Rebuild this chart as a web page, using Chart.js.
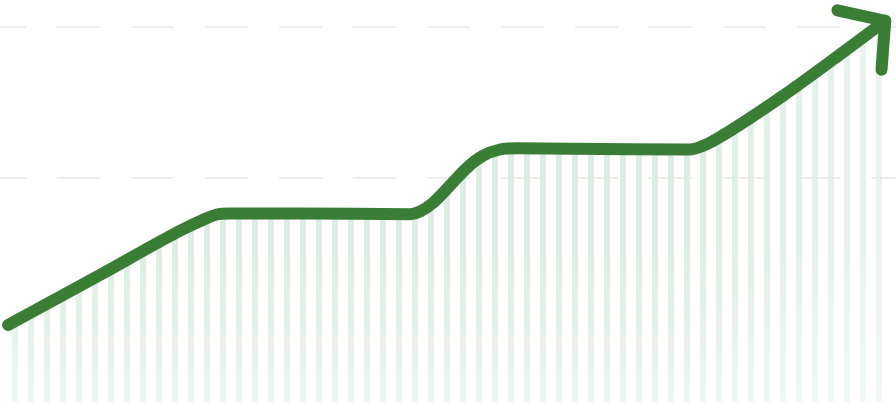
<!DOCTYPE html>
<html>
<head>
<meta charset="utf-8">
<script src="https://cdn.jsdelivr.net/npm/chart.js@4.4.1/dist/chart.umd.min.js"></script>
<style>
    html, body { margin: 0; padding: 0; background: #fff; }
    #wrap { width: 896px; height: 402px; position: relative; }
</style>
</head>
<body>
<div id="wrap"><canvas id="growthChart"></canvas></div>
<script>
// readings along the growth curve (x = % of period, y = index value)
const periods = [0.9, 11.2, 20.1, 22.5, 24.1, 25.7, 33.5, 45.8, 46.9, 48.3, 50.2, 52.1, 53.9, 55.8, 57.7, 67.0, 77.0, 78.7, 80.0, 87.4, 94.9, 98.8];
const values = [1.3, 17.9, 32.5, 35.9, 37.8, 38.2, 38.2, 38.0, 38.9, 41.7, 47.4, 53.3, 57.3, 59.4, 59.8, 59.6, 59.4, 60.9, 62.9, 77.2, 93.4, 102.0];
const gridTicks = [50, 100];

const lineGreen = '#3a7d35';

document.addEventListener('DOMContentLoaded', () => {
    const canvas = document.getElementById('growthChart');
    const wrap = document.getElementById('wrap');

    // vertical striped fill that fades toward the bottom and right
    const makeStripes = (w, h) => {
        const c = document.createElement('canvas');
        c.width = w;
        c.height = h;
        const g = c.getContext('2d');
        g.fillStyle = 'rgb(219, 238, 225)';
        for (let x = -4; x < w; x += 16) g.fillRect(x, 0, 6, h);

        g.globalCompositeOperation = 'destination-in';
        const hor = g.createLinearGradient(0, 0, w, 0);
        hor.addColorStop(0, 'rgba(0,0,0,0.85)');
        hor.addColorStop(0.05, 'rgba(0,0,0,1)');
        hor.addColorStop(0.75, 'rgba(0,0,0,1)');
        hor.addColorStop(1, 'rgba(0,0,0,0.6)');
        g.fillStyle = hor;
        g.fillRect(0, 0, w, h);

        const ver = g.createLinearGradient(0, 0, 0, h);
        ver.addColorStop(0, 'rgba(0,0,0,1)');
        ver.addColorStop(0.6, 'rgba(0,0,0,1)');
        ver.addColorStop(1, 'rgba(0,0,0,0.55)');
        g.fillStyle = ver;
        g.fillRect(0, 0, w, h);

        return g.createPattern(c, 'no-repeat');
    };

    // arrow head on the last point, aligned with the last segment
    const arrowHead = {
        id: 'arrowHead',
        afterDatasetsDraw(chart) {
            const pts = chart.getDatasetMeta(0).data;
            const tip = pts[pts.length - 1];
            const prev = pts[pts.length - 2];
            const back = Math.atan2(prev.y - tip.y, prev.x - tip.x);
            const spread = 49 * Math.PI / 180;
            const len = 49;
            const ctx = chart.ctx;
            ctx.save();
            ctx.strokeStyle = lineGreen;
            ctx.lineWidth = 12;
            ctx.lineCap = 'round';
            ctx.lineJoin = 'round';
            ctx.beginPath();
            ctx.moveTo(tip.x + Math.cos(back + spread) * len, tip.y + Math.sin(back + spread) * len);
            ctx.lineTo(tip.x, tip.y);
            ctx.lineTo(tip.x + Math.cos(back - spread) * len, tip.y + Math.sin(back - spread) * len);
            ctx.stroke();
            ctx.restore();
        }
    };

    new Chart(canvas.getContext('2d'), {
        type: 'line',
        data: {
            datasets: [{
                data: periods.map((p, i) => ({ x: p, y: values[i] })),
                borderColor: lineGreen,
                borderWidth: 12,
                borderCapStyle: 'round',
                borderJoinStyle: 'round',
                backgroundColor: makeStripes(wrap.clientWidth, wrap.clientHeight),
                fill: 'start',
                cubicInterpolationMode: 'monotone',
                pointRadius: 0,
                pointHoverRadius: 0
            }]
        },
        options: {
            responsive: true,
            maintainAspectRatio: false,
            animation: false,
            layout: { padding: 0 },
            plugins: { legend: { display: false }, tooltip: { enabled: false } },
            scales: {
                x: { type: 'linear', min: 0, max: 100, display: false },
                y: {
                    min: -24.2,
                    max: 108.9,
                    afterBuildTicks: axis => { axis.ticks = gridTicks.map(v => ({ value: v })); },
                    grid: { color: '#eeeeee', lineWidth: 2, drawTicks: false },
                    border: { display: false, dash: [43, 31], dashOffset: 17 },
                    ticks: { display: false }
                }
            }
        },
        plugins: [arrowHead]
    });
});
</script>
</body>
</html>
